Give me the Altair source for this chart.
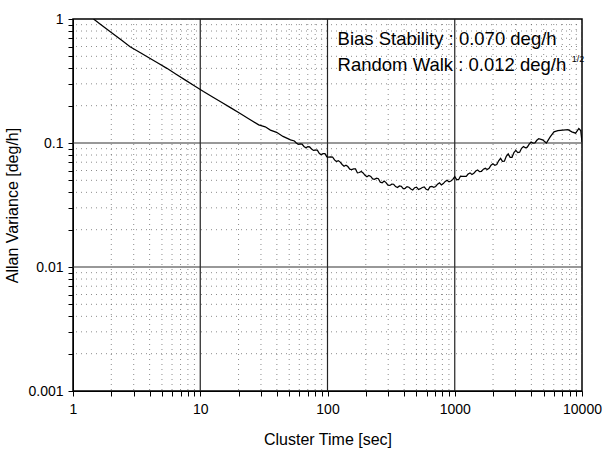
import altair as alt
import pandas as pd

# ---- data ----
cluster_time = [
    1.45, 1.66, 2.0, 2.4, 2.81, 3.31, 3.98, 4.68, 5.47, 6.46, 7.59, 8.91, 10.6, 12.6,
    14.8, 17.4, 20.6, 24.0, 28.8, 32.4, 35.6, 39.8, 44.7, 51.2,
    54.95, 58.9, 63.1, 67.6, 72.4, 77.6, 83.2, 89.1, 95.5, 102.3, 109.6, 117.5, 125.9,
    134.9, 144.5, 154.9, 166.0, 177.8, 190.5, 204.2, 218.8, 234.4, 251.2, 269.2, 288.4,
    309.0, 331.1, 354.8, 380.2, 407.4, 436.5, 467.7, 501.2, 537.0, 575.4, 616.6, 660.7,
    707.9, 758.6, 812.8, 871.0, 933.3, 1000.0, 1071.5, 1148.2, 1230.3, 1318.3, 1412.5,
    1513.6, 1621.8, 1737.8, 1862.1, 1995.3, 2138.0, 2290.9, 2454.7, 2630.3, 2818.4,
    3020.0, 3235.9, 3467.4, 3715.4, 3981.1, 4265.8, 4570.9, 4897.8, 5248.1, 5623.4,
    6025.6, 6456.5, 7079.5, 7762.5, 8317.6, 8912.5, 9440.6, 9772.4, 10000.0,
]
allan_var = [
    1.00, 0.90, 0.78, 0.676, 0.598, 0.542, 0.484, 0.44, 0.40, 0.359, 0.323, 0.291, 0.26, 0.234,
    0.212, 0.192, 0.173, 0.157, 0.140, 0.135, 0.127, 0.122, 0.113, 0.106,
    0.1038, 0.0977, 0.0980, 0.0916, 0.0929, 0.0871, 0.0875, 0.0805, 0.0820, 0.0769, 0.0771, 0.0708, 0.0701,
    0.0650, 0.0646, 0.0611, 0.0618, 0.0578, 0.0574, 0.0535, 0.0538, 0.0509, 0.0515, 0.0478, 0.0479,
    0.0455, 0.0465, 0.0437, 0.0448, 0.0431, 0.0440, 0.0418, 0.0440, 0.0428, 0.0442, 0.0418, 0.0446,
    0.0446, 0.0478, 0.0471, 0.0501, 0.0494, 0.0535, 0.0506, 0.0537, 0.0538, 0.0574, 0.0569,
    0.0605, 0.0589, 0.0625, 0.0624, 0.0679, 0.0671, 0.0752, 0.0713, 0.0817, 0.0767,
    0.0871, 0.0843, 0.0938, 0.0925, 0.1019, 0.1002, 0.1084, 0.106, 0.100, 0.112,
    0.123, 0.126, 0.127, 0.128, 0.123, 0.120, 0.131, 0.126, 0.102,
]
# extra samples read in the noisy band between the points above
cluster_time_mid = [
    56.9, 60.95, 65.3, 70.0, 75.0, 80.4, 86.1, 92.3, 98.9, 105.9, 113.5, 121.6, 130.3,
    139.6, 149.6, 160.3, 171.8, 184.1, 197.2, 211.3, 226.5, 242.7, 260.0, 278.6, 298.5,
    319.9, 342.8, 367.3, 393.6, 421.7, 451.9, 484.2, 518.8, 555.9, 595.7, 638.3, 683.9,
    732.8, 785.2, 841.4, 901.6, 966.1, 1035.1, 1109.2, 1188.5, 1273.5, 1364.6, 1462.2,
    1566.8, 1678.8, 1798.9, 1927.5, 2065.4, 2213.1, 2371.4, 2541.0, 2722.7, 2917.4,
    3126.1, 3349.7, 3589.2, 3845.9, 4120.9, 4415.7,
]
allan_var_mid = [
    0.1000, 0.0984, 0.0938, 0.0933, 0.0893, 0.0877, 0.0826, 0.0820, 0.0773, 0.0774, 0.0730, 0.0721, 0.0671,
    0.0661, 0.0615, 0.0619, 0.0574, 0.0589, 0.0548, 0.0547, 0.0514, 0.0520, 0.0483, 0.0493, 0.0457,
    0.0466, 0.0445, 0.0450, 0.0429, 0.0445, 0.0426, 0.0436, 0.0422, 0.0438, 0.0424, 0.0443, 0.0439,
    0.0466, 0.0459, 0.0490, 0.0486, 0.0509, 0.0507, 0.0541, 0.0537, 0.0562, 0.0557, 0.0594,
    0.0587, 0.0615, 0.0610, 0.0662, 0.0661, 0.0719, 0.0711, 0.0782, 0.0766, 0.0838,
    0.0836, 0.0906, 0.0914, 0.0979, 0.0998, 0.1052,
]

x_ticks = [1, 2, 3, 4, 5, 6, 7, 8, 9, 10, 20, 30, 40, 50, 60, 70, 80, 90, 100,
           200, 300, 400, 500, 600, 700, 800, 900, 1000,
           2000, 3000, 4000, 5000, 6000, 7000, 8000, 9000, 10000]
y_ticks = [0.001, 0.002, 0.003, 0.004, 0.005, 0.006, 0.007, 0.008, 0.009, 0.01,
           0.02, 0.03, 0.04, 0.05, 0.06, 0.07, 0.08, 0.09, 0.1,
           0.2, 0.3, 0.4, 0.5, 0.6, 0.7, 0.8, 0.9, 1]
x_major = [10, 100, 1000]
y_major = [0.01, 0.1]
x_minor = [v for v in x_ticks if v not in [1, 10, 100, 1000, 10000]]
y_minor = [v for v in y_ticks if v not in [0.001, 0.01, 0.1, 1]]

ann_text = ["Bias Stability : 0.070 deg/h", "Random Walk : 0.012 deg/h"]
ann_x = [120, 120]
ann_y = [0.617, 0.381]
sup_text = ["1/2"]
sup_x = [8300]
sup_y = [0.45]

FONT = "Liberation Sans"

df = pd.concat([
    pd.DataFrame({"t": cluster_time, "v": allan_var}),
    pd.DataFrame({"t": cluster_time_mid, "v": allan_var_mid}),
]).sort_values("t")

xs = alt.Scale(type="log", domain=[1, 10000], nice=False)
ys = alt.Scale(type="log", domain=[0.001, 1], nice=False)

label_expr = ("abs(log(datum.value)/LN10 - round(log(datum.value)/LN10)) < 0.001"
              " ? format(datum.value, '~g') : ''")

x_axis = alt.Axis(values=x_ticks, labelExpr=label_expr, grid=False, tickSize=5,
                  tickColor="black", domainColor="black", labelColor="black",
                  labelFontSize=14, labelFont=FONT, labelPadding=6, labelFlush=False,
                  title="Cluster Time [sec]", titleFont=FONT, titleFontSize=16,
                  titleFontWeight="normal", titleColor="black", titlePadding=15)
y_axis = alt.Axis(values=y_ticks, labelExpr=label_expr, grid=False, tickSize=5,
                  tickColor="black", domainColor="black", labelColor="black",
                  labelFontSize=14, labelFont=FONT, labelPadding=5, labelFlush=False,
                  title="Allan Variance [deg/h]", titleFont=FONT, titleFontSize=16,
                  titleFontWeight="normal", titleColor="black", titlePadding=7)

minor_x = alt.Chart(pd.DataFrame({"g": x_minor})).mark_rule(
    color="#555", strokeWidth=0.9, strokeDash=[1, 4], opacity=0.75
).encode(x=alt.X("g:Q", scale=xs, axis=x_axis))
minor_y = alt.Chart(pd.DataFrame({"g": y_minor})).mark_rule(
    color="#555", strokeWidth=0.9, strokeDash=[1, 4], opacity=0.75
).encode(y=alt.Y("g:Q", scale=ys, axis=y_axis))
major_x = alt.Chart(pd.DataFrame({"g": x_major})).mark_rule(
    color="#222", strokeWidth=1.2
).encode(x=alt.X("g:Q", scale=xs))
major_y = alt.Chart(pd.DataFrame({"g": y_major})).mark_rule(
    color="#333", strokeWidth=1.1
).encode(y=alt.Y("g:Q", scale=ys))

line = alt.Chart(df).mark_line(color="black", strokeWidth=1.25, clip=True).encode(
    x=alt.X("t:Q", scale=xs), y=alt.Y("v:Q", scale=ys), order="t:Q"
)

ann = alt.Chart(pd.DataFrame({"x": ann_x, "y": ann_y, "s": ann_text})).mark_text(
    align="left", baseline="alphabetic", font=FONT, fontSize=18.5, color="black"
).encode(x=alt.X("x:Q", scale=xs), y=alt.Y("y:Q", scale=ys), text="s:N")
sup = alt.Chart(pd.DataFrame({"x": sup_x, "y": sup_y, "s": sup_text})).mark_text(
    align="left", baseline="alphabetic", font=FONT, fontSize=9, color="black"
).encode(x=alt.X("x:Q", scale=xs), y=alt.Y("y:Q", scale=ys), text="s:N")

chart = alt.layer(minor_x, minor_y, major_x, major_y, line, ann, sup).properties(
    width=509, height=372,
    autosize=alt.AutoSizeParams(type="none"),
    padding={"left": 73, "top": 19, "right": 22, "bottom": 59},
    background="white",
).configure_view(stroke="black", strokeWidth=1.5)

chart.save("out.html", embed_options={"renderer": "svg", "actions": False})
